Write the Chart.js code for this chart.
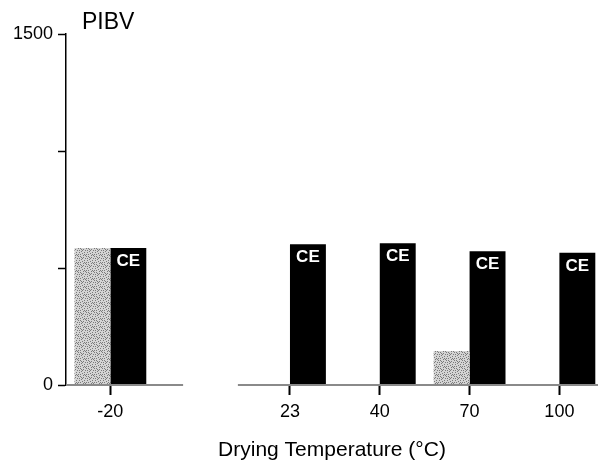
<!DOCTYPE html>
<html>
<head>
<meta charset="utf-8">
<script src="https://cdn.jsdelivr.net/npm/chart.js@4.4.1/dist/chart.umd.min.js"></script>
<style>
  html, body { margin: 0; padding: 0; background: #fff; }
  #wrap { width: 598px; height: 463px; }
</style>
</head>
<body>
<div id="wrap"><canvas id="chart" width="598" height="463"></canvas></div>
<script>
// data
var categories = ['-20', '23', '40', '70', '100'];
var xIndex = [0, 2, 3, 4, 5];           // gap between -20 and 23
var stippleValues = [586, null, null, 145, null];
var ceValues = [586, 602, 606, 572, 565];
var yTicks = [0, 500, 1000, 1500];
var yLabelled = [0, 1500];

function toPoints(vals) {
	var pts = [];
	for (var i = 0; i < vals.length; i++) {
		pts.push({ x: xIndex[i], y: vals[i] });
	}
	return pts;
}

// stippled grey fill (fixed dither, no randomness)
function makeStipple() {
	var c = document.createElement('canvas');
	c.width = 8; c.height = 8;
	var g = c.getContext('2d');
	g.fillStyle = '#d4d4d4';
	g.fillRect(0, 0, 8, 8);
	var dots = [[0,0],[3,1],[6,0],[1,3],[5,2],[7,4],[2,5],[4,4],[0,6],[6,6],[3,7],[5,7],[1,1],[7,2],[2,2],[4,6]];
	g.fillStyle = '#7a7a7a';
	dots.forEach(function(d) { g.fillRect(d[0], d[1], 1, 1); });
	return g.createPattern(c, 'repeat');
}

var FONT = "'Liberation Sans', Arial, Helvetica, sans-serif";

var extras = {
	id: 'extras',
	afterDatasetsDraw: function(chart) {
		var ctx = chart.ctx;
		var xs = chart.scales.x;
		var area = chart.chartArea;
		ctx.save();
		// broken baseline
		ctx.strokeStyle = '#8a8a8a';
		ctx.lineWidth = 2;
		ctx.beginPath();
		ctx.moveTo(area.left, area.bottom);
		ctx.lineTo(xs.getPixelForValue(0.81), area.bottom);
		ctx.moveTo(xs.getPixelForValue(1.42), area.bottom);
		ctx.lineTo(area.right, area.bottom);
		ctx.stroke();

		// CE labels inside black bars
		var meta = chart.getDatasetMeta(1);
		ctx.fillStyle = '#fff';
		ctx.font = 'bold 17px ' + FONT;
		ctx.textAlign = 'center';
		ctx.textBaseline = 'top';
		meta.data.forEach(function(el) {
			ctx.fillText('CE', el.x, el.y + 5);
		});

		// panel label
		ctx.fillStyle = '#000';
		ctx.font = '23px ' + FONT;
		ctx.textAlign = 'left';
		ctx.textBaseline = 'alphabetic';
		ctx.fillText('PIBV', area.left + 16, 29);
		ctx.restore();
	}
};

var ctx = document.getElementById('chart');
var chart = new Chart(ctx, {
	type: 'bar',
	data: {
		datasets: [{
			label: 'stippled',
			data: toPoints(stippleValues),
			backgroundColor: makeStipple(),
			borderWidth: 0
		}, {
			label: 'CE',
			data: toPoints(ceValues),
			backgroundColor: '#000',
			borderWidth: 0
		}]
	},
	options: {
		responsive: false,
		animation: false,
		events: [],
		layout: { padding: { top: 34, right: 0, left: 0, bottom: 0 } },
		datasets: { bar: { categoryPercentage: 0.8, barPercentage: 1.0 } },
		scales: {
			x: {
				type: 'linear',
				offset: false,
				min: -0.494,
				max: 5.43,
				afterBuildTicks: function(scale) {
					scale.ticks = xIndex.map(function(v) { return { value: v }; });
				},
				afterFit: function(scale) { scale.height = 78; },
				border: { display: false },
				grid: {
					offset: false,
					drawOnChartArea: false,
					drawTicks: true,
					tickLength: 10,
					tickWidth: 2,
					tickColor: '#000'
				},
				ticks: {
					color: '#000',
					font: { size: 18, family: FONT },
					padding: 6,
					maxRotation: 0,
					autoSkip: false,
					callback: function(value) {
						var i = xIndex.indexOf(value);
						return i >= 0 ? categories[i] : '';
					}
				},
				title: {
					display: true,
					text: 'Drying Temperature (°C)',
					color: '#000',
					font: { size: 21, family: FONT },
					padding: { top: 0, bottom: 0 }
				}
			},
			y: {
				min: 0,
				max: 1500,
				afterBuildTicks: function(scale) {
					scale.ticks = yTicks.map(function(v) { return { value: v }; });
				},
				afterFit: function(scale) { scale.width = 66; },
				border: { display: true, color: '#000', width: 1.5 },
				grid: {
					drawOnChartArea: false,
					drawTicks: true,
					tickLength: 8,
					tickWidth: 1.5,
					tickColor: '#000'
				},
				ticks: {
					color: '#000',
					font: { size: 18, family: FONT },
					padding: 5,
					callback: function(value) {
						return yLabelled.indexOf(value) >= 0 ? String(value) : '';
					}
				}
			}
		},
		plugins: {
			legend: { display: false },
			tooltip: { enabled: false },
			title: { display: false }
		}
	},
	plugins: [extras]
});
</script>
</body>
</html>
